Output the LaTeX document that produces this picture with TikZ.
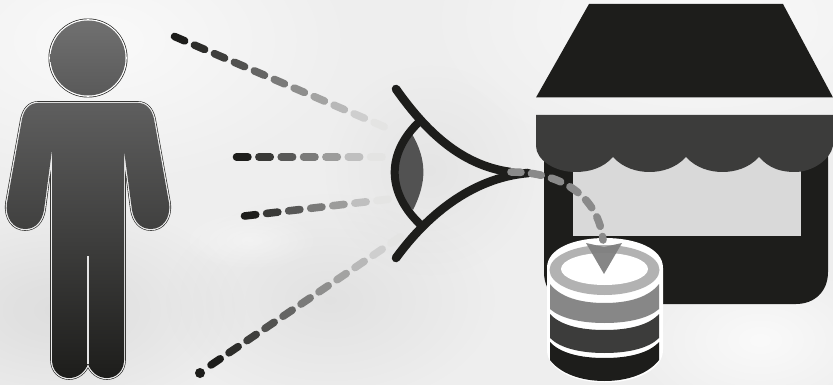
\documentclass[tikz,border=0pt]{standalone}
\usetikzlibrary{calc,fadings}
\definecolor{ink}{HTML}{1D1D1B}
\definecolor{awn}{HTML}{3C3C3B}
\definecolor{bgc}{HTML}{EEEEEE}
\definecolor{arrowgrey}{HTML}{8A8A8A}
\tikzfading[name=softblob,inner color=transparent!0,outer color=transparent!100]
\newcommand{\rayline}[5]{%
  \foreach \i in {1,...,#5}{%
    \pgfmathsetmacro{\ta}{(\i-1)/#5}%
    \pgfmathsetmacro{\tb}{(\i-0.49)/#5}%
    \pgfmathsetmacro{\shadeval}{100-100*pow((\i-1)/(#5-1),1.1)*0.95}%
    \draw[raydash,draw=ink!\shadeval!bgc] ($(#1,#2)!\ta!(#3,#4)$) -- ($(#1,#2)!\tb!(#3,#4)$);
  }}
\newcommand{\bodypath}{(38,103) -- (138,103)
  .. controls (147,103) and (152,110) .. (154,119)
  -- (169,203) .. controls (171,219) and (162,229) .. (151,229)
  .. controls (140,229) and (134,221) .. (132,210)
  -- (124,150) -- (124,360)
  .. controls (124,371) and (116,378) .. (107,378)
  .. controls (98,378) and (91,372) .. (88,364)
  .. controls (85,372) and (78,378) .. (69,378)
  .. controls (60,378) and (52,371) .. (52,360)
  -- (52,150) -- (44,210)
  .. controls (42,221) and (36,229) .. (25,229)
  .. controls (14,229) and (5,219) .. (7,203)
  -- (22,119) .. controls (24,110) and (29,103) .. (38,103) -- cycle}
\tikzset{
  raydash/.style={line width=7.6pt,line cap=round},
  lid/.style={draw=ink,line width=8.6pt,line cap=round},
  blobdark/.style={fill=black,opacity=#1,path fading=softblob,draw=none},
  blobwhite/.style={fill=white,opacity=#1,path fading=softblob,draw=none},
  x=1pt,y=-1pt
}
\begin{document}
\begin{tikzpicture}
\useasboundingbox (0,0) rectangle (833,385);
% background
\fill[bgc] (0,0) rectangle (833,385);
\begin{scope}
\clip (0,0) rectangle (833,385);
\fill[blobwhite=.7] (100,40) ellipse [x radius=260,y radius=150];
\fill[blobwhite=.7] (700,20) ellipse [x radius=280,y radius=150];
\fill[blobdark=.07] (60,310) ellipse [x radius=190,y radius=110];
\fill[blobdark=.05] (330,300) ellipse [x radius=170,y radius=110];
\fill[blobdark=.04] (430,170) ellipse [x radius=110,y radius=110];
\fill[blobwhite=.7] (760,340) ellipse [x radius=130,y radius=80];
\fill[blobwhite=.4] (250,240) ellipse [x radius=70,y radius=30];
\end{scope}
% person
\draw[ink,line width=4pt,line join=round] (88,58) circle [radius=37.5];
\draw[white,line width=2.6pt] (88,58) circle [radius=37.5];
\shade[top color=black!56,bottom color=black!65] (88,58) circle [radius=37.5];
\draw[ink,line width=3.6pt,line join=round] \bodypath;
\draw[white!93!black,line width=2.4pt,line join=round] \bodypath;
\shade[top color=black!63,bottom color=ink] \bodypath;
\draw[white!90!black,line width=2.4pt] (88,256) -- (88,364);
% rays
\rayline{174.5}{36.5}{394}{131}{11}
\rayline{236.5}{157}{393}{157}{7}
\rayline{244.5}{216}{399}{198}{7}
\fill[ink] (200,373) circle [radius=5];
\rayline{211}{365}{409}{231}{11}
% store
\fill[ink] (589,4) -- (783,4) -- (833,97.5) -- (536,97.5) -- cycle;
\fill[ink] (544,140) -- (828,140) -- (828,272)
  .. controls (828,292) and (814,304) .. (796,304)
  -- (576,304) .. controls (558,304) and (544,292) .. (544,272) -- cycle;
\fill[black!15] (573,150) rectangle (801,236);
\fill[awn] (536,115) -- (833,115) -- (833,146)
  .. controls (830,160) and (812,172) .. (795,172)
  .. controls (780,172) and (769,168) .. (759,157)
  .. controls (749,168) and (735,172) .. (722.5,172)
  .. controls (710,172) and (696,168) .. (686,157)
  .. controls (676,168) and (662,172) .. (649.5,172)
  .. controls (637,172) and (623,168) .. (613,157)
  .. controls (603,168) and (590,172) .. (575,172)
  .. controls (555,172) and (536,160) .. (536,146) -- cycle;
% database
\fill[white] (547,268) .. controls (547,248) and (575,238) .. (605,238)
  .. controls (635,238) and (663,248) .. (663,268)
  -- (663,350) .. controls (663,370) and (635,382.5) .. (605,382.5)
  .. controls (575,382.5) and (547,370) .. (547,350) -- cycle;
\fill[black!30] (604.5,270) ellipse [x radius=55,y radius=25];
\fill[white] (604.5,269) ellipse [x radius=43.5,y radius=16];
\fill[black!47] (550,284) .. controls (560,297) and (580,303) .. (604.5,303)
  .. controls (629,303) and (649,297) .. (659,284) -- (659,309)
  .. controls (649,318) and (629,323) .. (604.5,323)
  .. controls (580,323) and (560,318) .. (550,309) -- cycle;
\fill[awn] (550,314) .. controls (560,325) and (580,330) .. (604.5,330)
  .. controls (629,330) and (649,325) .. (659,314) -- (659,338)
  .. controls (649,348) and (629,353) .. (604.5,353)
  .. controls (580,353) and (560,348) .. (550,338) -- cycle;
\fill[ink] (550,342) .. controls (560,353) and (580,358) .. (604.5,358)
  .. controls (629,358) and (649,353) .. (659,342) -- (659,360)
  .. controls (649,373) and (629,381) .. (604.5,381)
  .. controls (580,381) and (560,373) .. (550,360) -- cycle;
% eye
\fill[black!68] (412,134) .. controls (427,160) and (427,182) .. (413,210)
  .. controls (388,185) and (388,160) .. (412,134) -- cycle;
\draw[lid] (396,89) .. controls (425,130) and (460,165) .. (510,172);
\draw[lid] (396,258) .. controls (425,218) and (470,178) .. (528,173);
\draw[draw=ink,line width=8pt] (420,121) .. controls (384,155) and (388,195) .. (422,226);
% connector
\draw[arrowgrey,line width=7.6pt,line cap=round,dash pattern=on 10pt off 10.5pt]
  (511,172) .. controls (560,172) and (598,195) .. (603,240);
\fill[black!50,opacity=.95] (586,243) -- (604,247) -- (622,243) -- (604,274) -- cycle;
\end{tikzpicture}
\end{document}
